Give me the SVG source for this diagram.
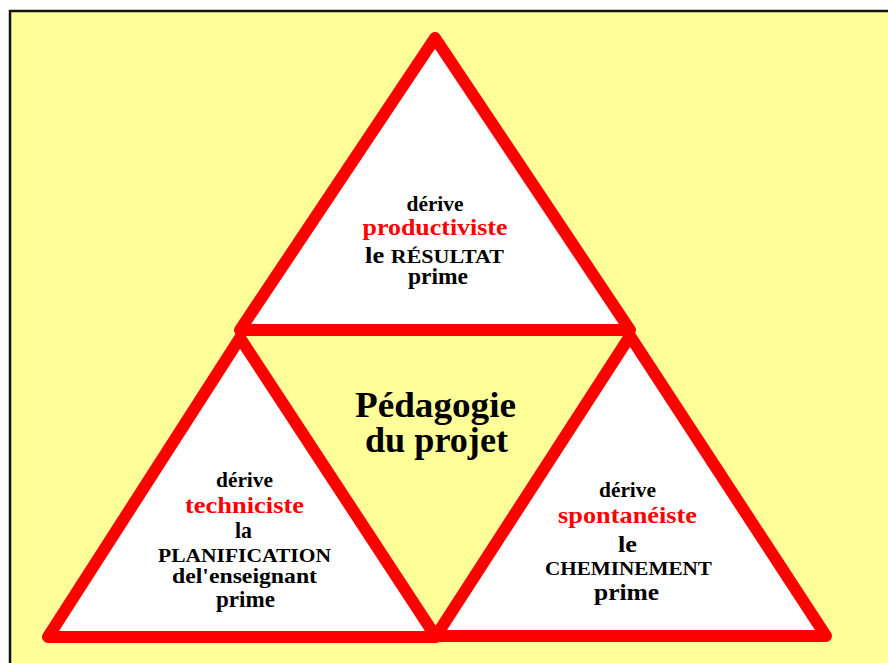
<svg xmlns="http://www.w3.org/2000/svg" width="888" height="663" viewBox="0 0 888 663">
<style>
.tri{fill:#ffffff;stroke:#ff0000;stroke-width:12;stroke-linejoin:round}
.t{font-family:"Liberation Serif","Times New Roman",serif;font-weight:bold;fill:#000;text-anchor:middle}
.r{fill:#ff0000}
</style>
<rect x="0" y="0" width="888" height="663" fill="#ffffff"/>
<rect x="10" y="11" width="900" height="700" fill="#ffff99" stroke="#111111" stroke-width="2.5"/>
<g id="top">
<polygon class="tri" points="435,38 240,330 630,330"/>
<text class="t" x="435" y="211" font-size="20" textLength="57" lengthAdjust="spacingAndGlyphs">dérive</text>
<text class="t r" x="435" y="235" font-size="23" textLength="145" lengthAdjust="spacingAndGlyphs">productiviste</text>
<text class="t" x="434.5" y="263" textLength="139" lengthAdjust="spacingAndGlyphs"><tspan font-size="23">le </tspan><tspan font-size="19">RÉSULTAT</tspan></text>
<text class="t" x="438" y="284" font-size="23" textLength="60" lengthAdjust="spacingAndGlyphs">prime</text>
</g>
<g id="left">
<polygon class="tri" points="240,338 48,637 436,637"/>
<text class="t" x="244.5" y="487" font-size="20" textLength="57" lengthAdjust="spacingAndGlyphs">dérive</text>
<text class="t r" x="244.5" y="513" font-size="23" textLength="119" lengthAdjust="spacingAndGlyphs">techniciste</text>
<text class="t" x="243.5" y="538" font-size="23" textLength="17" lengthAdjust="spacingAndGlyphs">la</text>
<text class="t" x="244.5" y="562" font-size="19" textLength="173" lengthAdjust="spacingAndGlyphs">PLANIFICATION</text>
<text class="t" x="244.5" y="583" font-size="22" textLength="145" lengthAdjust="spacingAndGlyphs">del'enseignant</text>
<text class="t" x="245.5" y="607" font-size="23" textLength="59" lengthAdjust="spacingAndGlyphs">prime</text>
</g>
<g id="right">
<polygon class="tri" points="630,336 436,636 826,636"/>
<text class="t" x="627.5" y="497" font-size="20" textLength="57" lengthAdjust="spacingAndGlyphs">dérive</text>
<text class="t r" x="627.5" y="523" font-size="23" textLength="139" lengthAdjust="spacingAndGlyphs">spontanéiste</text>
<text class="t" x="627.5" y="552" font-size="23" textLength="19" lengthAdjust="spacingAndGlyphs">le</text>
<text class="t" x="628.5" y="575" font-size="19" textLength="167" lengthAdjust="spacingAndGlyphs">CHEMINEMENT</text>
<text class="t" x="626.5" y="600" font-size="24" textLength="65" lengthAdjust="spacingAndGlyphs">prime</text>
</g>
<g id="center">
<text class="t" x="435.5" y="417" font-size="36" textLength="161" lengthAdjust="spacingAndGlyphs">Pédagogie</text>
<text class="t" x="436.5" y="452" font-size="36" textLength="143" lengthAdjust="spacingAndGlyphs">du projet</text>
</g>
</svg>
